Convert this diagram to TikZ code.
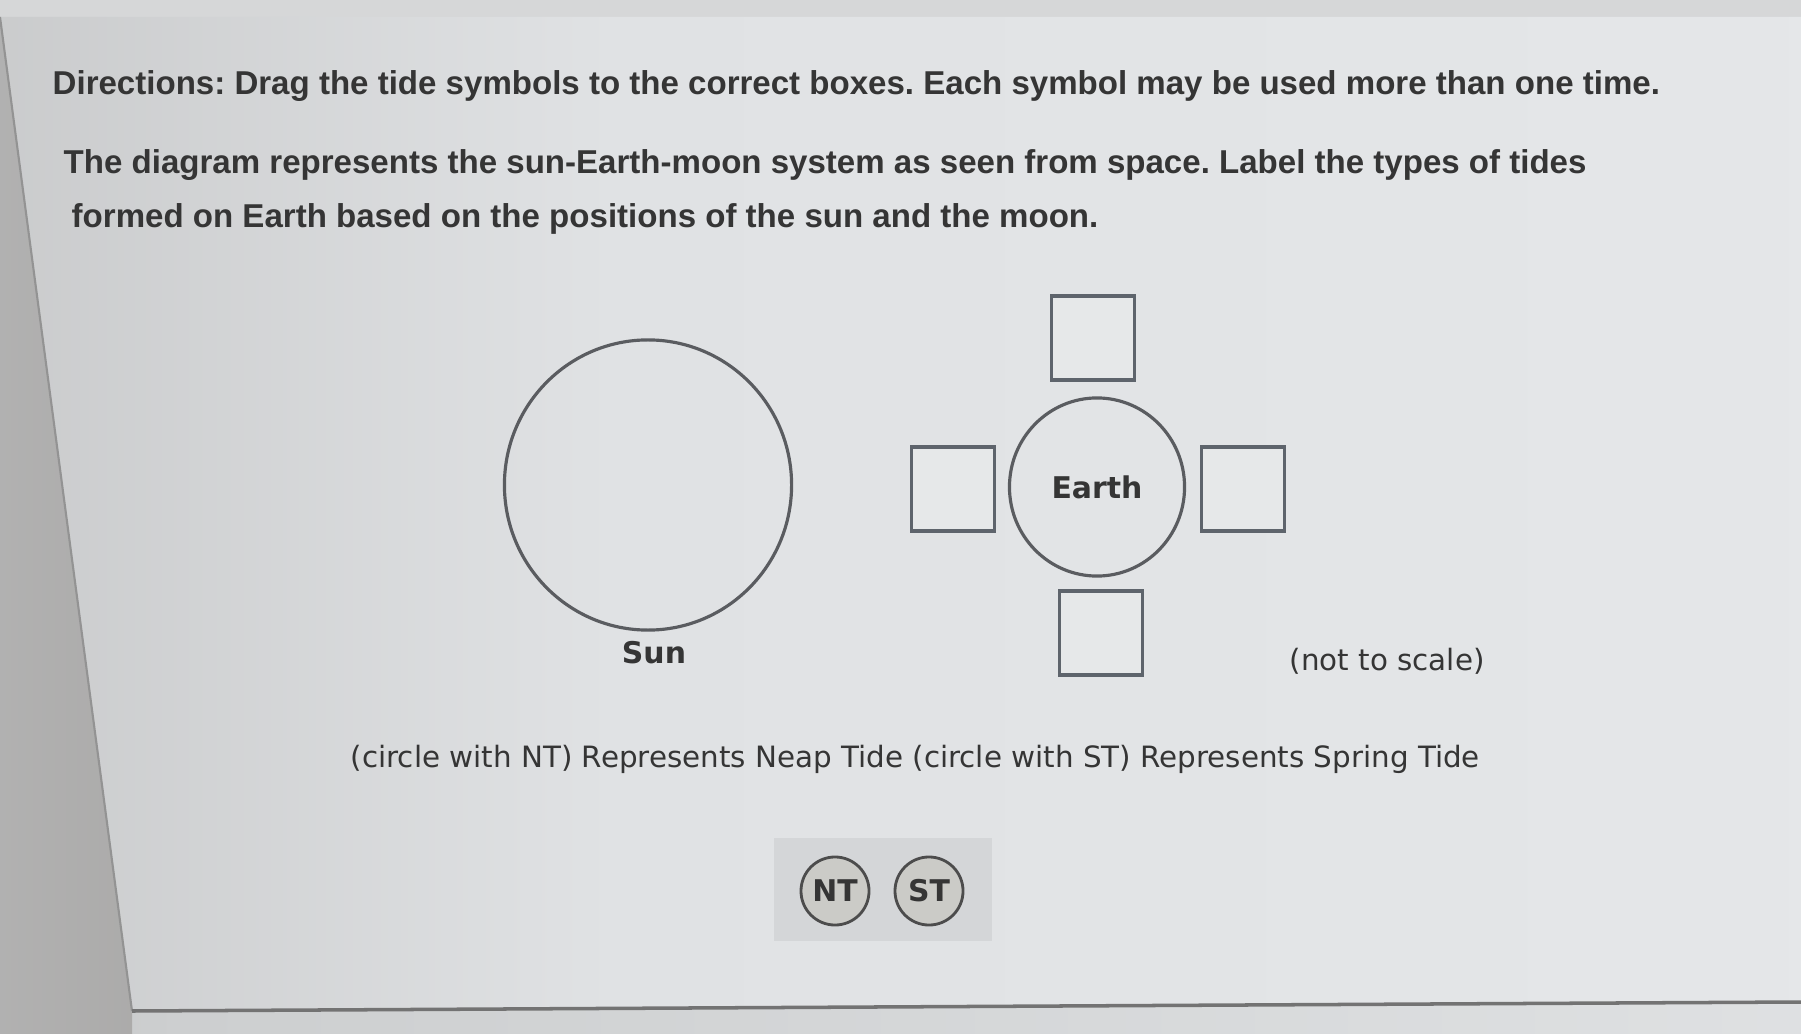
\documentclass[tikz,border=0pt]{standalone}
\usepackage{fontspec}
\setmainfont{DejaVu Sans}
\newfontfamily\headfont{Liberation Sans}
\usetikzlibrary{shapes.geometric,shadows}
\frenchspacing

\definecolor{inkgray}{HTML}{353535}
\definecolor{linegray}{HTML}{5A5C60}
\definecolor{boxline}{HTML}{5E646C}
\definecolor{edgegray}{HTML}{A0A0A0}
\definecolor{midgray}{HTML}{C4C5C6}
\definecolor{panelgray}{HTML}{E0E2E4}
\definecolor{panelright}{HTML}{E8EAEC}
\definecolor{outgray}{HTML}{A9A8A7}
\definecolor{outlight}{HTML}{B4B4B4}
\definecolor{floorgray}{HTML}{CDCFD0}
\definecolor{topgray}{HTML}{D6D7D8}
\definecolor{tokenfill}{HTML}{CBCBC7}

\pgfdeclarehorizontalshading{panelshade}{100bp}{color(0bp)=(edgegray); color(20bp)=(midgray); color(42bp)=(panelgray); color(100bp)=(panelright)}
\pgfdeclarehorizontalshading{floorshade}{100bp}{color(0bp)=(outgray); color(30bp)=(floorgray); color(100bp)=(panelright)}
\pgfdeclarehorizontalshading{outshade}{100bp}{color(0bp)=(outlight); color(100bp)=(outgray)}

\begin{document}
\begin{tikzpicture}[x=0.01cm, y=-0.01cm,
    headtext/.style={anchor=west, inner sep=0pt, text=inkgray,
      font=\headfont\bfseries\fontsize{9.4}{11}\selectfont},
    plaintext/.style={inner sep=0pt, text=inkgray, font=\fontsize{8.35}{10}\selectfont},
    planet/.style={ellipse, draw=linegray, line width=0.9pt, inner sep=0pt},
    tidebox/.style={rectangle, draw=boxline, line width=1pt, fill=panelgray!80!white,
      minimum width=0.83cm, minimum height=0.84cm, inner sep=0pt,
      drop shadow={shadow xshift=0pt, shadow yshift=-0.7pt, fill=gray, opacity=0.6}},
    token/.style={circle, draw=black!70, line width=0.8pt, fill=tokenfill,
      minimum size=0.68cm, inner sep=0pt, text=inkgray,
      font=\bfseries\fontsize{8.5}{10}\selectfont}]
    \useasboundingbox (0,0) rectangle (1801,1034);

    % screen photo background
    \fill[topgray] (0,0) rectangle (1801,1034);
    \shade[shading=floorshade] (0,17) -- (132,1011) -- (1801,1002) -- (1801,1034) -- (0,1034) -- cycle;
    \shade[shading=outshade] (0,17) -- (132,1011) -- (132,1034) -- (0,1034) -- cycle;
    \shade[shading=panelshade] (0,17) -- (1801,17) -- (1801,1002) -- (132,1011) -- cycle;
    \draw[gray!85, line width=0.6pt] (0,17) -- (132,1011);
    \draw[gray!90!black, line width=1pt] (132,1011) -- (1801,1002);

    % directions
    \node[headtext] (dir) at (52,86) {Directions: Drag the tide symbols to the correct boxes. Each symbol may be used more than one time.};
    \node[headtext] (task1) at (63,165) {The diagram represents the sun-Earth-moon system as seen from space. Label the types of tides};
    \node[headtext] (task2) at (71,219) {formed on Earth based on the positions of the sun and the moon.};

    % sun
    \node[planet, minimum width=2.87cm, minimum height=2.9cm] (sun) at (648,485) {};
    \node[plaintext, font=\bfseries\fontsize{8.5}{10}\selectfont] (sunlbl) at (654,653) {Sun};

    % earth and the four boxes
    \node[planet, minimum width=1.75cm, minimum height=1.78cm,
      font=\bfseries\fontsize{8.5}{10}\selectfont, text=inkgray] (earth) at (1097,487) {Earth};
    \node[tidebox] (boxN) at (1093,338) {};
    \node[tidebox] (boxW) at (953,489) {};
    \node[tidebox] (boxE) at (1243,489) {};
    \node[tidebox] (boxS) at (1101,633) {};
    \node[plaintext, anchor=west] (scale) at (1289,661) {(not to scale)};

    % legend
    \node[plaintext, anchor=west] (legend) at (350,759) {(circle with NT) Represents Neap Tide (circle with ST) Represents Spring Tide};

    % symbol tray
    \fill[gray!12!panelgray] (774,838) rectangle (992,941);
    \node[token] (nt) at (835,891) {NT};
    \node[token] (st) at (929,891) {ST};
\end{tikzpicture}
\end{document}
